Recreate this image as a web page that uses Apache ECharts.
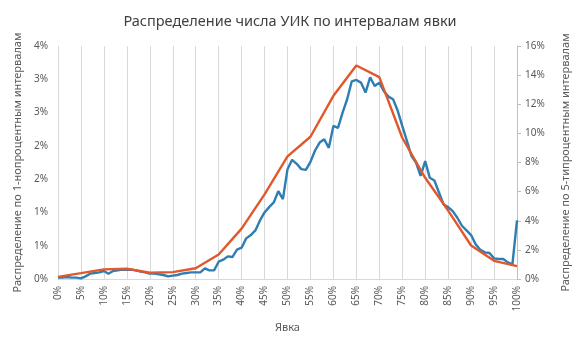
<!DOCTYPE html>
<html>
<head>
<meta charset="utf-8">
<script src="https://cdn.jsdelivr.net/npm/echarts@6/dist/echarts.min.js"></script>
<style>
  html, body { margin: 0; padding: 0; background: #ffffff; }
  #chart { width: 580px; height: 338px; }
</style>
</head>
<body>
<div id="chart"></div>
<script>
// Turnout buckets: 0% .. 100% in 1-point steps
const turnoutLabels = [];
for (let t = 0; t <= 100; t++) turnoutLabels.push(t + '%');

// Share of polling stations per 1-point turnout interval (%, left axis)
const share1pct = [
  0.02, 0.02, 0.03, 0.02, 0.02, 0.01, 0.04, 0.08, 0.09, 0.10,
  0.12, 0.08, 0.12, 0.13, 0.14, 0.14, 0.14, 0.13, 0.11, 0.10,
  0.08, 0.08, 0.07, 0.06, 0.04, 0.05, 0.06, 0.08, 0.09, 0.10,
  0.10, 0.10, 0.16, 0.13, 0.13, 0.26, 0.29, 0.34, 0.33, 0.44,
  0.47, 0.61, 0.66, 0.73, 0.88, 1.00, 1.08, 1.15, 1.32, 1.20,
  1.65, 1.79, 1.73, 1.65, 1.64, 1.76, 1.93, 2.05, 2.10, 1.97,
  2.30, 2.27, 2.50, 2.70, 2.97, 2.99, 2.95, 2.80, 3.03, 2.90,
  2.95, 2.82, 2.74, 2.70, 2.53, 2.30, 2.08, 1.85, 1.75, 1.55,
  1.77, 1.52, 1.48, 1.30, 1.12, 1.08, 1.02, 0.92, 0.80, 0.73,
  0.66, 0.52, 0.44, 0.40, 0.39, 0.31, 0.30, 0.30, 0.25, 0.22,
  0.88
];

// Share per 5-point turnout interval (%, right axis), at 0%, 5%, ..., 100%
const share5pct = [
  0.15, 0.40, 0.66, 0.70, 0.43, 0.47, 0.74, 1.68, 3.46, 5.81,
  8.42, 9.77, 12.58, 14.66, 13.86, 9.70, 6.95, 4.70, 2.30, 1.25,
  0.88
];

// Spread the 5-point values over the 1-point category axis
const share5pctOnAxis = turnoutLabels.map((_, i) =>
  i % 5 === 0 ? share5pct[i / 5] : null
);

const titleText = 'Распределение числа УИК по интервалам явки';
const leftAxisName = 'Распределение по 1-нопроцентным интервалам';
const rightAxisName = 'Распределение по 5-типроцентным интервалам';
const xAxisName = 'Явка';

const FONT = 'Noto Sans';
const textGray = '#595959';
const gridGray = '#d9d9d9';

const chart = echarts.init(document.getElementById('chart'), null, { renderer: 'canvas' });

chart.setOption({
  backgroundColor: '#ffffff',
  animation: false,
  title: {
    text: titleText,
    left: 'center',
    top: 9,
    textStyle: { fontFamily: FONT, fontSize: 14.5, fontWeight: 'normal', color: '#404040' }
  },
  grid: { left: 58, right: 63, top: 46, bottom: 55, containLabel: false },
  xAxis: {
    type: 'category',
    data: turnoutLabels,
    boundaryGap: false,
    name: xAxisName,
    nameLocation: 'middle',
    nameGap: 43,
    nameTextStyle: { fontFamily: FONT, fontSize: 11, color: textGray },
    axisLine: { show: true, lineStyle: { color: gridGray, width: 1 } },
    axisTick: { show: false },
    axisLabel: {
      interval: 4,
      rotate: 90,
      margin: 7,
      fontFamily: FONT,
      fontSize: 10,
      color: textGray
    },
    splitLine: { show: true, interval: 4, lineStyle: { color: gridGray, width: 1 } }
  },
  yAxis: [
    {
      type: 'value',
      min: 0,
      max: 3.5,
      interval: 0.5,
      position: 'left',
      name: leftAxisName,
      nameLocation: 'middle',
      nameGap: 31,
      nameTextStyle: { fontFamily: FONT, fontSize: 11, color: textGray },
      axisLine: { show: false },
      axisTick: { show: false },
      splitLine: { show: false },
      axisLabel: {
        margin: 10,
        fontFamily: FONT,
        fontSize: 10,
        color: textGray,
        formatter: v => Math.round(v + 1e-6) + '%'
      }
    },
    {
      type: 'value',
      min: 0,
      max: 16,
      interval: 2,
      position: 'right',
      name: rightAxisName,
      nameLocation: 'middle',
      nameGap: 43,
      nameRotate: 90,
      nameTextStyle: { fontFamily: FONT, fontSize: 11, color: textGray },
      axisLine: { show: true, lineStyle: { color: '#bfbfbf', width: 1 } },
      axisTick: { show: true, length: 4, lineStyle: { color: '#bfbfbf' } },
      splitLine: { show: false },
      axisLabel: {
        margin: 8,
        fontFamily: FONT,
        fontSize: 10,
        color: textGray,
        formatter: v => v + '%'
      }
    }
  ],
  series: [
    {
      name: '1%',
      type: 'line',
      yAxisIndex: 0,
      data: share1pct,
      showSymbol: false,
      smooth: false,
      lineStyle: { color: '#2e7db3', width: 2.4 },
      itemStyle: { color: '#2e7db3' }
    },
    {
      name: '5%',
      type: 'line',
      yAxisIndex: 1,
      data: share5pctOnAxis,
      connectNulls: true,
      showSymbol: false,
      smooth: false,
      lineStyle: { color: '#e0582b', width: 2.4 },
      itemStyle: { color: '#e0582b' }
    }
  ]
});
</script>
</body>
</html>
